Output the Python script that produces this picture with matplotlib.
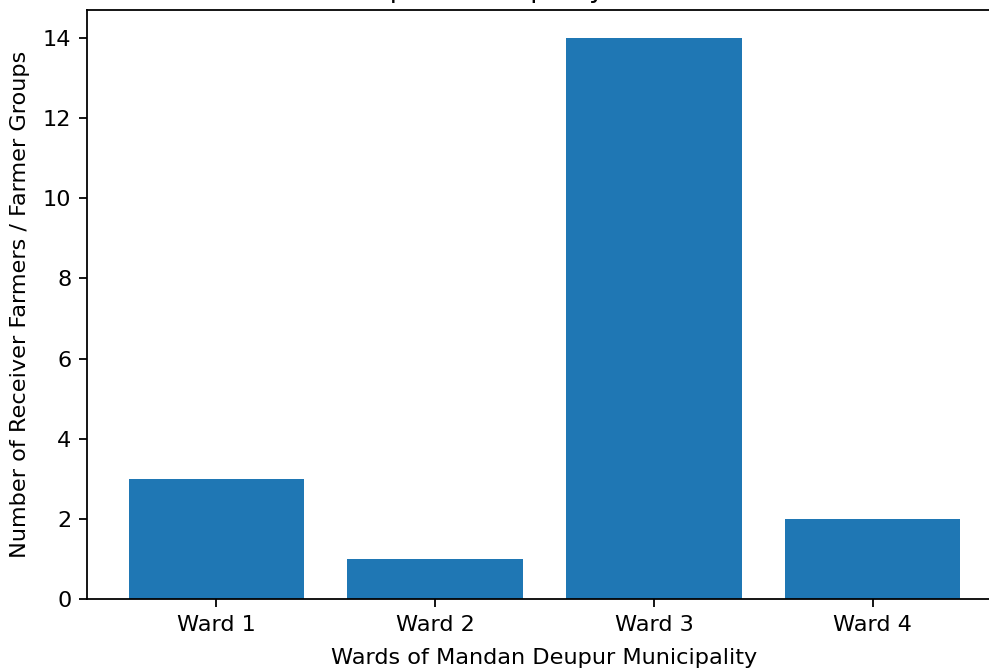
import matplotlib
matplotlib.use("Agg")
from matplotlib import pyplot as plt

wards = ["Ward 1", "Ward 2", "Ward 3", "Ward 4"]
receivers = [3, 1, 14, 2]

# the source image was rendered slightly larger than 150 dpi
s = 1.075
plt.rcParams.update({
    "font.size": 10 * s,
    "axes.titlesize": 12 * s,
    "axes.titlepad": 6 * s,
    "axes.labelpad": 6.2,
    "axes.linewidth": 0.8 * s,
    "xtick.major.size": 3.5 * s,
    "ytick.major.size": 3.5 * s,
    "xtick.major.width": 0.8 * s,
    "ytick.major.width": 0.8 * s,
    "xtick.major.pad": 3.5 * s,
    "ytick.major.pad": 3.5 * s,
})

fig = plt.figure(figsize=(989 / 150, 671 / 150), dpi=150)
# the reference is a crop: axes run past the right edge and the title sits above the top
ax = fig.add_axes([87 / 989, 1 - 599 / 671, (1002 - 87) / 989, (599 - 10) / 671])

ax.bar(wards, receivers, color="#1f77b4")
ax.set_xlabel("Wards of Mandan Deupur Municipality")
ax.set_ylabel("Number of Receiver Farmers / Farmer Groups")
ax.set_title("Receivers in Mandan Deupur Municipality, Kavre, Province 3, FY 2080 B.S.")

fig.savefig("out.png", dpi=150)
